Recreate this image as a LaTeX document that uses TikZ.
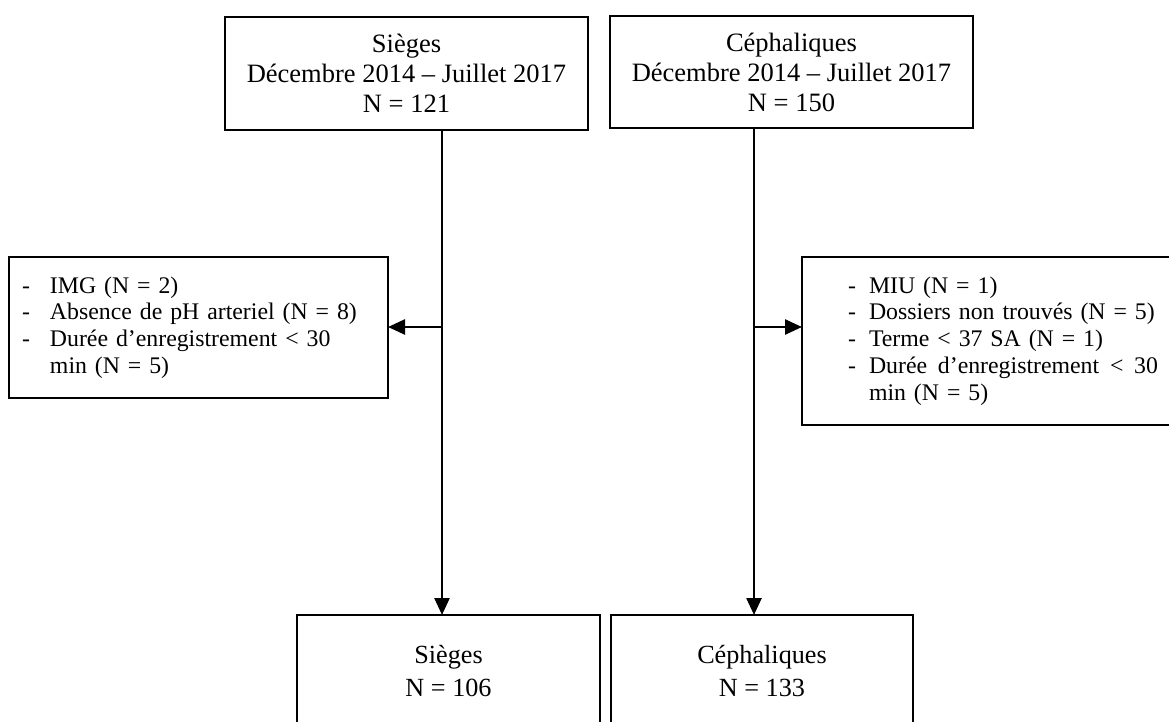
\documentclass[tikz,border=0pt]{standalone}
\usepackage{fontspec}
\setmainfont{Liberation Serif}
\usetikzlibrary{arrows.meta}
\begin{document}
\begin{tikzpicture}[x=1pt,y=-1pt,
  box/.style={draw,line width=2.5pt,inner sep=0pt,outer sep=0pt,align=center},
  topfont/.style={font=\fontsize{26.5}{30}\selectfont},
  sidefont/.style={font=\fontsize{23.8}{26.8}\selectfont},
  botfont/.style={font=\fontsize{26.2}{33.5}\selectfont},
  arr/.style={line width=2.5pt,-{Triangle[length=17pt,width=15pt]}}]
\useasboundingbox (0,0) rectangle (1169,722);
\clip (0,0) rectangle (1169,722);
% top boxes
\node[box,topfont,minimum width=363pt,minimum height=113pt] (topL) at (406.5,73.5)
  {Sièges\\Décembre 2014 – Juillet 2017\\N = 121};
\node[box,topfont,minimum width=363pt,minimum height=112pt] (topR) at (791.5,72)
  {Céphaliques\\Décembre 2014 – Juillet 2017\\N = 150};
% side boxes
\node[box,sidefont,minimum width=379pt,minimum height=141pt,text width=353pt,align=left] (sideL) at (198.5,327.5)
  {\makebox[28pt][l]{-}IMG (N = 2)\\
   \makebox[28pt][l]{-}Absence de pH arteriel (N = 8)\\
   \makebox[28pt][l]{-}Durée d’enregistrement < 30\\
   \hspace*{28pt}min (N = 5)};
\node[box,sidefont,minimum width=422pt,minimum height=168pt,text width=330pt,align=left] (sideR) at (1013,341)
  {\makebox[21pt][l]{-}MIU (N = 1)\\
   \makebox[21pt][l]{-}Dossiers non trouvés (N = 5)\\
   \makebox[21pt][l]{-}Terme < 37 SA (N = 1)\\
   \makebox[21pt][l]{-}\makebox[289pt][s]{Durée\hfill d’enregistrement\hfill <\hfill 30}\\
   \hspace*{21pt}min (N = 5)};
% bottom boxes
\node[box,botfont,minimum width=303pt,minimum height=112pt] (botL) at (448.5,671)
  {Sièges\\N = 106};
\node[box,botfont,minimum width=302pt,minimum height=112pt] (botR) at (762,671)
  {Céphaliques\\N = 133};
% connectors
\coordinate (jL) at (442,327);
\coordinate (jR) at (754,327);
\draw[arr] (topL.south -| jL) -- (botL.north -| jL);
\draw[arr] (topR.south -| jR) -- (botR.north -| jR);
\draw[arr] (jL) -- (sideL.east |- jL);
\draw[arr] (jR) -- (sideR.west |- jR);
\end{tikzpicture}
\end{document}
